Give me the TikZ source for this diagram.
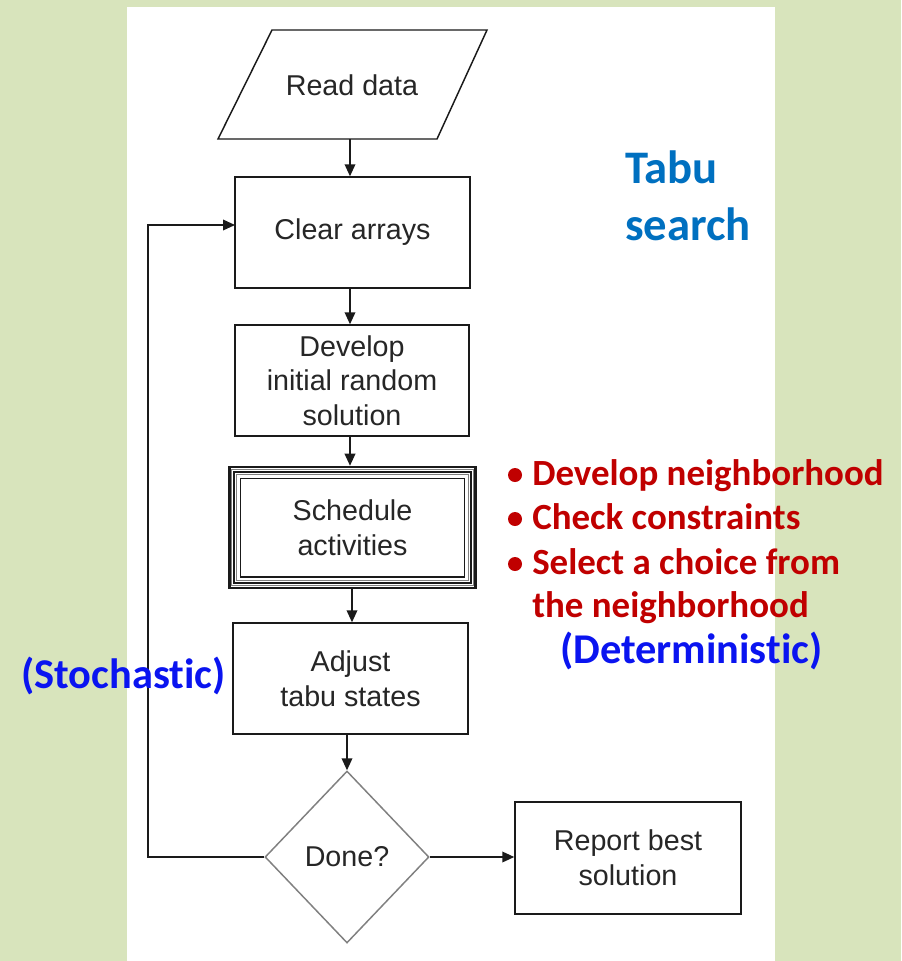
\documentclass[tikz,border=0pt]{standalone}
\usepackage{fontspec}
\setmainfont{Liberation Sans}
\newfontfamily\calfont[Ligatures=NoCommon]{Carlito}
\usetikzlibrary{shapes.geometric,arrows.meta,calc}
\definecolor{bgg}{HTML}{D8E4BC}
\definecolor{linec}{HTML}{1A1A1A}
\definecolor{txtc}{HTML}{262626}
\definecolor{redc}{HTML}{C00000}
\definecolor{tabub}{HTML}{0070C0}
\definecolor{pureb}{HTML}{0A14F0}
\begin{document}
\begin{tikzpicture}[x=0.75pt,y=-0.75pt,
  flowtxt/.style={text=txtc,font=\fontsize{21.5}{26}\selectfont,align=center,inner sep=0pt},
  procbox/.style={flowtxt,draw=linec,line width=1.1pt,minimum width=176.25pt,minimum height=83.25pt},
  flowarrow/.style={draw=linec,line width=1.1pt,-{Triangle[length=9pt,width=8pt]}},
  redtxt/.style={text=redc,font=\calfont\bfseries\fontsize{27.7}{32}\selectfont,anchor=base west,inner sep=0pt},
  bluetxt/.style={text=pureb,font=\calfont\bfseries\fontsize{31.8}{36}\selectfont,anchor=base west,inner sep=0pt},
  tabutxt/.style={text=tabub,font=\calfont\bfseries\fontsize{35}{40}\selectfont,anchor=base west,inner sep=0pt}]
\fill[bgg] (0,0) rectangle (901,961);
\fill[white] (127,7) rectangle (775,961);
\useasboundingbox (0,0) rectangle (901,961);

% Read data parallelogram
\draw[linec,line width=1.1pt] (272,30) -- (487,30) -- (437,139) -- (218,139) -- cycle;
\node[flowtxt] (rd) at (352,85) {Read data};
\coordinate (rdb) at (350,139);

\node[procbox] (clear) at (352.5,232.5) {Clear arrays};
\node[procbox,minimum width=175.5pt] (dev) at (352,380.5) {Develop\\initial random\\solution};

% Schedule activities (triple border)
\node[flowtxt,minimum width=186pt,minimum height=92.25pt] (sch) at (352.5,527.5) {Schedule\\activities};
\draw[linec,line width=1.8pt] ($(sch.north west)+(1.2,1.2)$) rectangle ($(sch.south east)+(-1.2,-1.2)$);
\draw[gray,line width=0.9pt] ($(sch.north west)+(3.6,3.6)$) rectangle ($(sch.south east)+(-3.6,-3.6)$);
\draw[linec,line width=1.8pt] ($(sch.north west)+(6,6)$) rectangle ($(sch.south east)+(-6,-6)$);
\draw[gray,line width=0.7pt] ($(sch.north west)+(8.5,8.5)$) rectangle ($(sch.south east)+(-8.5,-8.5)$);
\draw[linec,line width=1.1pt] ($(sch.north west)+(12.5,12.5)$) rectangle ($(sch.south east)+(-12.5,-12.5)$);

\node[procbox] (adj) at (350.5,678.5) {Adjust\\tabu states};
\node[flowtxt,draw=gray,line width=1.1pt,shape=diamond,minimum width=123pt,minimum height=129pt] (done) at (347,857) {Done?};
\node[procbox,minimum width=169.5pt,minimum height=84pt] (rep) at (628,858) {Report best\\solution};

% connectors
\coordinate (c1) at (350,288);
\coordinate (c2) at (350,436);
\coordinate (c3) at (352,589);
\coordinate (c4) at (347,734);
\draw[flowarrow] (rdb) -- (rdb |- clear.north);
\draw[flowarrow] (c1) -- (c1 |- dev.north);
\draw[flowarrow] (c2) -- (c2 |- sch.north);
\draw[flowarrow] (c3) -- (c3 |- adj.north);
\draw[flowarrow] (c4) -- (done.north);
\draw[flowarrow] (done.east) -- (done.east -| rep.west);
\coordinate (lp) at (148,857);
\coordinate (cl) at (235,225);
\draw[flowarrow] (done.west) -- (lp) |- (cl);

% annotations
\node[tabutxt] (t1) at (625,183) {Tabu};
\node[tabutxt] (t2) at (625,240) {search};

\fill[redc] (515,475) circle (7);
\fill[redc] (515,519) circle (7);
\fill[redc] (515,564) circle (7);
\node[redtxt] (r1) at (532,485) {Develop neighborhood};
\node[redtxt] (r2) at (532,529) {Check constraints};
\node[redtxt] (r3) at (532,574) {Select a choice from};
\node[redtxt] (r4) at (532,617) {the neighborhood};
\node[bluetxt] (det) at (560,663) {(Deterministic)};
\node[bluetxt] (sto) at (21,688) {(Stochastic)};
\end{tikzpicture}
\end{document}
